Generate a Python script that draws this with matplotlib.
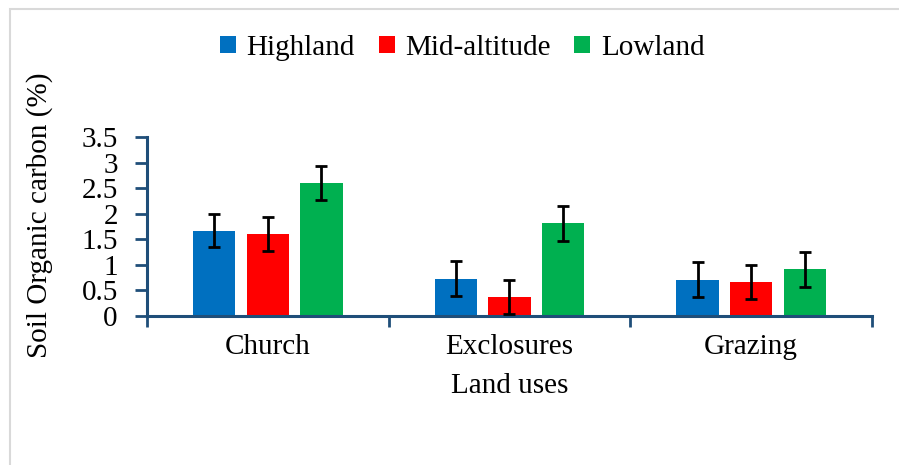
import matplotlib.pyplot as plt
import matplotlib.patches as patches
import numpy as np

plt.rcParams['font.family'] = ['Liberation Serif', 'DejaVu Serif']

land_uses = ["Church", "Exclosures", "Grazing"]
zones = ["Highland", "Mid-altitude", "Lowland"]
highland = [1.67, 0.73, 0.71]
mid_altitude = [1.60, 0.37, 0.66]
lowland = [2.60, 1.81, 0.91]
highland_err = [0.33, 0.34, 0.34]
mid_altitude_err = [0.33, 0.33, 0.33]
lowland_err = [0.34, 0.34, 0.34]
y_ticks = [0, 0.5, 1, 1.5, 2, 2.5, 3, 3.5]
y_tick_labels = ["0", "0.5", "1", "1.5", "2", "2.5", "3", "3.5"]

colors = ["#0070C0", "#FF0000", "#00B050"]
axis_color = "#1F4E79"
fs = 21

fig = plt.figure(figsize=(8.99, 4.65), dpi=100)
ax = fig.add_axes([147 / 899, 1 - 316 / 465, (872 - 147) / 899, (316 - 137) / 465])

x = np.arange(len(land_uses))
width = 0.174
step = 0.222
series = [(highland, highland_err), (mid_altitude, mid_altitude_err), (lowland, lowland_err)]
for k, (vals, errs) in enumerate(series):
    ax.bar(x + (k - 1) * step, vals, width, color=colors[k], label=zones[k], zorder=2)
    ax.errorbar(x + (k - 1) * step, vals, yerr=errs, fmt='none', ecolor='black',
                elinewidth=2, capsize=4.5, capthick=2, zorder=3)

ax.set_xlim(-0.5, 2.5)
ax.set_ylim(0, 3.5)
ax.set_yticks(y_ticks)
ax.set_yticklabels(y_tick_labels)

# boundaries between land uses get the tick marks, names sit in the middle
ax.set_xticks([-0.5, 0.5, 1.5, 2.5])
ax.set_xticklabels([])
ax.set_xticks(x, minor=True)
ax.set_xticklabels(land_uses, minor=True)
ax.tick_params(axis='x', which='major', direction='out', length=8, width=2, color=axis_color)
ax.tick_params(axis='x', which='minor', length=0, pad=13, labelsize=fs)
ax.tick_params(axis='y', direction='out', length=9, width=2, color=axis_color, pad=12, labelsize=fs)

for side in ["top", "right"]:
    ax.spines[side].set_visible(False)
for side in ["left", "bottom"]:
    ax.spines[side].set_color(axis_color)
    ax.spines[side].set_linewidth(2.2)

ax.set_xlabel("Land uses", fontsize=fs, labelpad=9)
fig.text(40 / 899, 1 - 215 / 465, "Soil Organic carbon (%)", rotation=90,
         ha='center', va='center', fontsize=fs)

fig.legend(loc='center', bbox_to_anchor=(462 / 899, 1 - 48 / 465), ncol=3, frameon=False,
           fontsize=fs, handlelength=0.55, handleheight=0.55, handletextpad=0.35,
           columnspacing=0.83)

fig.patches.append(patches.Rectangle((10 / 899, -0.1), 1.2, 1.1 - 9 / 465, transform=fig.transFigure,
                                     fill=False, edgecolor="#D9D9D9", linewidth=1.5))

fig.savefig("out.png", dpi=100)
